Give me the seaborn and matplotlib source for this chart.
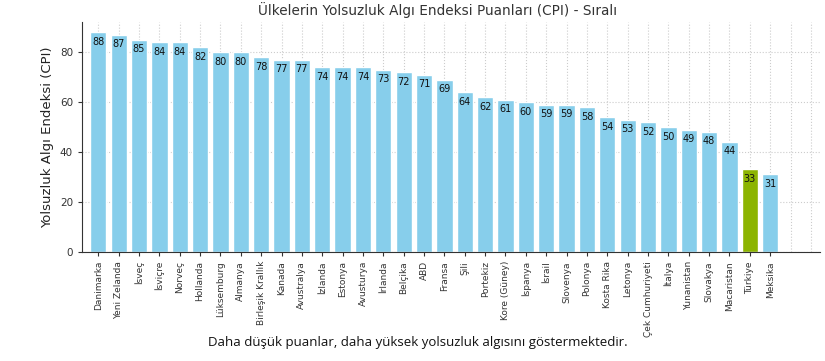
import matplotlib
matplotlib.use("Agg")
import matplotlib.pyplot as plt
import seaborn as sns
import pandas as pd

countries = ["Danimarka", "Yeni Zelanda", "İsveç", "İsviçre", "Norveç", "Hollanda",
             "Lüksemburg", "Almanya", "Birleşik Krallık", "Kanada", "Avustralya",
             "İzlanda", "Estonya", "Avusturya", "İrlanda", "Belçika", "ABD", "Fransa",
             "Şili", "Portekiz", "Kore (Güney)", "İspanya", "İsrail", "Slovenya",
             "Polonya", "Kosta Rika", "Letonya", "Çek Cumhuriyeti", "İtalya",
             "Yunanistan", "Slovakya", "Macaristan", "Türkiye", "Meksika"]
scores = [88, 87, 85, 84, 84, 82, 80, 80, 78, 77, 77, 74, 74, 74, 73, 72, 71, 69,
          64, 62, 61, 60, 59, 59, 58, 54, 53, 52, 50, 49, 48, 44, 33, 31]
highlight = "Türkiye"

df = pd.DataFrame({"Ülke": countries, "CPI": scores})
palette = {c: ("#8cb400" if c == highlight else "#87ceeb") for c in countries}

sns.set_style("ticks")
plt.rcParams['font.family'] = ['DejaVu Sans']

fig = plt.figure(figsize=(8.25, 3.61), dpi=100)
ax = fig.add_axes([0.0994, 0.302, 0.8946, 0.637])

sns.barplot(data=df, x="Ülke", y="CPI", hue="Ülke", palette=palette,
            legend=False, width=0.8, saturation=1, ax=ax, zorder=2)

for i, v in enumerate(scores):
    ax.text(i, v - 1.8, str(v), ha="center", va="top", fontsize=7, color="#111111", zorder=3)

n = len(countries)
ax.set_xticks(range(n))
ax.set_xticklabels(countries, rotation=90, fontsize=6.5, color="#333333")
ax.set_xticks([n, n + 1], minor=True)
ax.tick_params(axis="x", which="minor", length=0)
ax.set_xlim(-0.8, n + 1.45)
ax.set_ylim(0, 92)
ax.set_yticks([0, 20, 40, 60, 80])
ax.tick_params(axis="y", labelsize=7.5, colors="#333333", length=3)
ax.tick_params(axis="x", which="major", length=3, colors="#333333")
ax.grid(True, which="major", linestyle=":", color="#cccccc", linewidth=0.8, zorder=0)
ax.grid(True, which="minor", axis="x", linestyle=":", color="#cccccc", linewidth=0.8, zorder=0)
ax.set_axisbelow(True)
sns.despine(ax=ax)
for s in ["left", "bottom"]:
    ax.spines[s].set_color("#333333")
    ax.spines[s].set_linewidth(0.8)

ax.set_xlabel("")
ax.set_ylabel("Yolsuzluk Algı Endeksi (CPI)", fontsize=9.5, color="#222222")
ax.set_title("Ülkelerin Yolsuzluk Algı Endeksi Puanları (CPI) - Sıralı",
             fontsize=9.8, color="#333333", pad=5, x=0.482)

fig.text(0.507, 0.052, "Daha düşük puanlar, daha yüksek yolsuzluk algısını göstermektedir.",
         ha="center", va="center", fontsize=9.5, family=["Open Sans", "DejaVu Sans"],
         color="#111111")

fig.savefig("out.png", dpi=100)
